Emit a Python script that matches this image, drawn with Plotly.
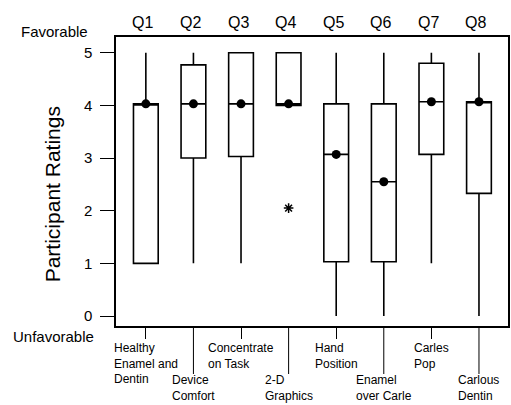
import plotly.graph_objects as go

questions = ["Q1", "Q2", "Q3", "Q4", "Q5", "Q6", "Q7", "Q8"]
positions = [1, 2, 3, 4, 5, 6, 7, 8]
category_labels = [
    "Healthy<br>Enamel and<br>Dentin",
    "Device<br>Comfort",
    "Concentrate<br>on Task",
    "2-D<br>Graphics",
    "Hand<br>Position",
    "Enamel<br>over Carle",
    "Carles<br>Pop",
    "Carlous<br>Dentin",
]
lower_whisker = [1, 1, 1, 4, 0, 0, 1, 0]
q1_vals = [1, 3, 3.03, 4, 1.03, 1.03, 3.07, 2.33]
median_vals = [4.03, 4.03, 4.03, 4.03, 3.07, 2.55, 4.07, 4.07]
q3_vals = [4.03, 4.77, 5, 5, 4.03, 4.03, 4.8, 4.07]
upper_whisker = [5, 5, 5, 5, 5, 5, 5, 5]
outlier_x = [4]
outlier_y = [2.05]
y_ticks = [0, 1, 2, 3, 4, 5]

FONT = "Liberation Sans, Arial, sans-serif"

fig = go.Figure()
fig.add_trace(go.Box(
    x=positions, q1=q1_vals, median=median_vals, q3=q3_vals,
    lowerfence=lower_whisker, upperfence=upper_whisker,
    width=0.52, whiskerwidth=0, boxpoints=False,
    fillcolor="white", line=dict(color="black", width=1.6),
    showlegend=False, hoverinfo="skip",
))
fig.add_trace(go.Scatter(
    x=positions, y=median_vals, mode="markers",
    marker=dict(color="black", size=9), showlegend=False, hoverinfo="skip",
))
fig.add_trace(go.Scatter(
    x=outlier_x, y=outlier_y, mode="markers",
    marker=dict(symbol="asterisk-open", size=8, color="black",
                line=dict(color="black", width=1.5)),
    showlegend=False, hoverinfo="skip",
))

fig.update_layout(
    width=511, height=405,
    margin=dict(l=116, r=1, t=37, b=79),
    paper_bgcolor="white", plot_bgcolor="white",
    font=dict(family=FONT, color="black"),
    xaxis=dict(
        range=[0.373, 8.61], tickvals=positions[0::2], ticks="outside",
        ticklen=11, tickwidth=1, tickcolor="black", showticklabels=False,
        showline=True, linecolor="black", linewidth=1.5, mirror=True,
        showgrid=False, zeroline=False,
    ),
    yaxis=dict(
        range=[-0.19, 5.30], tickvals=y_ticks, ticks="outside", ticklen=14,
        tickwidth=1.2, tickcolor="black", tickfont=dict(size=15),
        ticklabelstandoff=5,
        showline=True, linecolor="black", linewidth=1.5, mirror=True,
        showgrid=False, zeroline=False,
    ),
)

shapes = []
for p in positions[1::2]:
    shapes.append(dict(type="line", xref="x", yref="paper", ysizemode="pixel",
                       yanchor=0, x0=p, x1=p, y0=0, y1=-48,
                       line=dict(color="black", width=1)))
fig.update_layout(shapes=shapes)

pw, ph = 511 - 116 - 1, 405 - 37 - 79
ann = []
for i, (p, q, lab) in enumerate(zip(positions, questions, category_labels)):
    ann.append(dict(x=p, y=1, xref="x", yref="paper", text=q, showarrow=False,
                    xanchor="center", yanchor="bottom", yshift=4, xshift=-3,
                    font=dict(size=16)))
    ann.append(dict(x=p, y=0, xref="x", yref="paper", text=lab, showarrow=False,
                    xanchor="center", yanchor="top", align="left",
                    yshift=-13 if i % 2 == 0 else -45,
                    font=dict(size=12)))
ann.append(dict(x=(54 - 116) / pw, y=(326 - 32) / ph, xref="paper", yref="paper",
                text="Favorable", showarrow=False, font=dict(size=15),
                xanchor="center", yanchor="middle"))
ann.append(dict(x=(53 - 116) / pw, y=(326 - 336) / ph, xref="paper", yref="paper",
                text="Unfavorable", showarrow=False, font=dict(size=15),
                xanchor="center", yanchor="middle"))
ann.append(dict(x=(52 - 116) / pw, y=(326 - 194) / ph, xref="paper", yref="paper",
                text="Participant Ratings", textangle=-90, showarrow=False,
                xanchor="center", yanchor="middle", font=dict(size=21)))
fig.update_layout(annotations=ann)

fig.write_html("out.html", config={"displayModeBar": False},
               post_script="document.body.style.margin='0';")
